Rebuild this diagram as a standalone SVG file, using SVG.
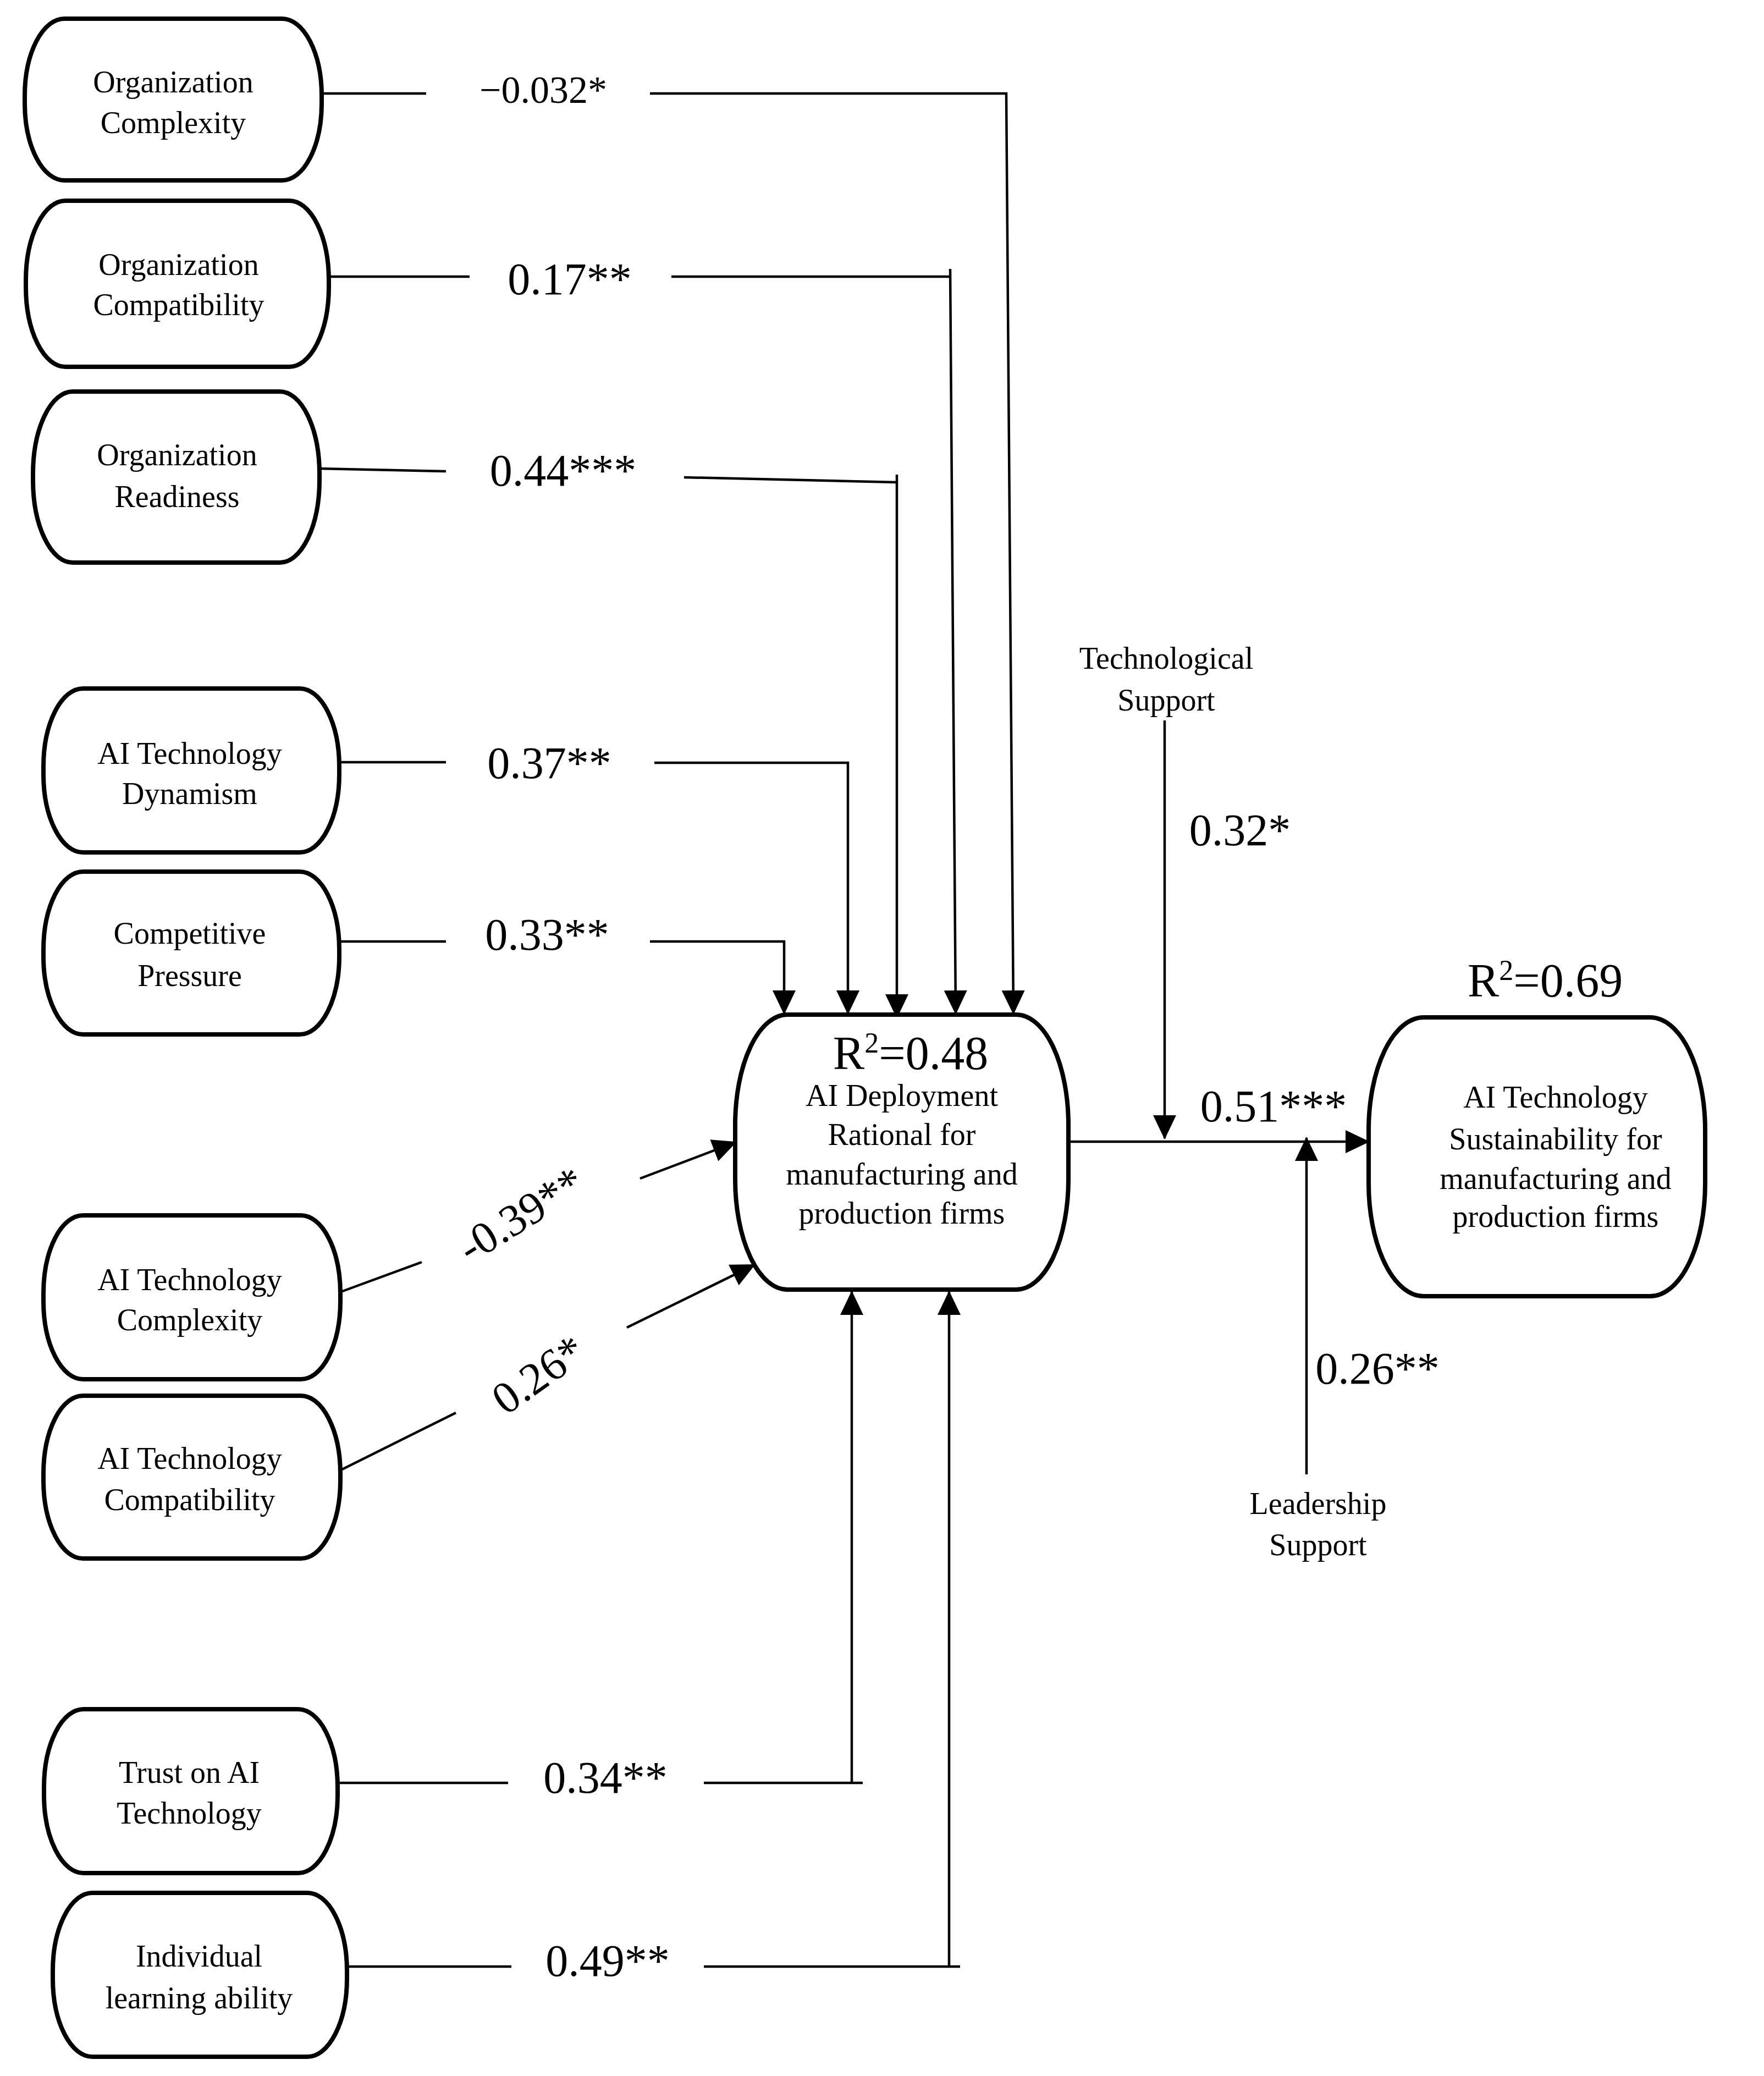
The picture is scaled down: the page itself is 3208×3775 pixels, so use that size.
<svg xmlns="http://www.w3.org/2000/svg" width="3208" height="3775" viewBox="0 0 3208 3775">
<defs>
<style>
.node{fill:#fff;stroke:#000;stroke-width:8}
.nt{font-family:"Liberation Serif","Times New Roman",serif;font-size:56px;text-anchor:middle;fill:#000}
.coef{font-family:"Liberation Serif","Times New Roman",serif;font-size:82px;text-anchor:middle;fill:#000}
.small{font-size:70px}
.r2{font-family:"Liberation Serif","Times New Roman",serif;font-size:86px;text-anchor:middle;fill:#000}
.ln{fill:none;stroke:#000;stroke-width:4.5}
.arr{fill:none;stroke:#000;stroke-width:4.5;marker-end:url(#ah)}
</style>
<marker id="ah" markerUnits="userSpaceOnUse" markerWidth="44" markerHeight="44" refX="42" refY="21" orient="auto" viewBox="0 0 44 42">
<path d="M0,0 L44,21 L0,42 z" fill="#000"/>
</marker>
</defs>
<rect width="3208" height="3775" fill="#fff"/>

<g id="connectors">
<path class="ln" d="M583,170 H775"/>
<path class="arr" d="M1182,170 H1830 L1843,1843"/>
<path class="ln" d="M599,503 H854"/>
<path class="ln" d="M1221,503 H1728"/>
<path class="arr" d="M1728,489 L1738,1843"/>
<path class="ln" d="M580,852 L811,857"/>
<path class="ln" d="M1244,868 L1631,877"/>
<path class="arr" d="M1631,863 V1850"/>
<path class="ln" d="M618,1386 H811"/>
<path class="arr" d="M1190,1387 H1542 V1843"/>
<path class="ln" d="M618,1712 H811"/>
<path class="arr" d="M1182,1712 H1426 V1843"/>
<path class="ln" d="M620,2349 L767,2295"/>
<path class="arr" d="M1164,2143 L1338,2077"/>
<path class="ln" d="M620,2673 L829,2569"/>
<path class="arr" d="M1140,2414 L1372,2300"/>
<path class="ln" d="M614,3242 H924"/>
<path class="ln" d="M1280,3242 H1569"/>
<path class="arr" d="M1549,3242 V2349"/>
<path class="ln" d="M631,3576 H930"/>
<path class="ln" d="M1280,3576 H1746"/>
<path class="arr" d="M1726,3576 V2349"/>
<path class="arr" d="M1945,2076 H2489"/>
<path class="arr" d="M2118,1310 V2070"/>
<path class="arr" d="M2376,2681 V2069"/>

<text class="coef small" x="988" y="187">−0.032*</text>
<text class="coef" x="1036" y="535">0.17**</text>
<text class="coef" x="1024" y="883">0.44***</text>
<text class="coef" x="999" y="1415">0.37**</text>
<text class="coef" x="995" y="1727">0.33**</text>
<text class="coef" transform="translate(962,2232) rotate(-32)">-0.39**</text>
<text class="coef" transform="translate(995,2522) rotate(-35)">0.26*</text>
<text class="coef" x="1101" y="3260">0.34**</text>
<text class="coef" x="1105" y="3593">0.49**</text>
<text class="coef" x="2255" y="1537">0.32*</text>
<text class="coef" x="2316" y="2039">0.51***</text>
<text class="coef" x="2505" y="2516">0.26**</text>
</g>

<g id="n-org-complexity">
<rect class="node" x="45" y="34" width="540" height="294" rx="72" ry="140"/>
<text class="nt" x="315" y="168">Organization</text>
<text class="nt" x="315" y="242">Complexity</text>
</g>
<g id="n-org-compatibility">
<rect class="node" x="47" y="365" width="551" height="302" rx="72" ry="145"/>
<text class="nt" x="325" y="500">Organization</text>
<text class="nt" x="325" y="573">Compatibility</text>
</g>
<g id="n-org-readiness">
<rect class="node" x="60" y="712" width="521" height="311" rx="72" ry="150"/>
<text class="nt" x="322" y="846">Organization</text>
<text class="nt" x="322" y="922">Readiness</text>
</g>
<g id="n-ai-dynamism">
<rect class="node" x="79" y="1252" width="538" height="298" rx="72" ry="142"/>
<text class="nt" x="345" y="1389">AI Technology</text>
<text class="nt" x="345" y="1462">Dynamism</text>
</g>
<g id="n-competitive">
<rect class="node" x="79" y="1585" width="538" height="296" rx="72" ry="142"/>
<text class="nt" x="345" y="1716">Competitive</text>
<text class="nt" x="345" y="1793">Pressure</text>
</g>
<g id="n-ai-complexity">
<rect class="node" x="79" y="2210" width="540" height="298" rx="72" ry="142"/>
<text class="nt" x="345" y="2346">AI Technology</text>
<text class="nt" x="345" y="2419">Complexity</text>
</g>
<g id="n-ai-compatibility">
<rect class="node" x="79" y="2538" width="540" height="296" rx="72" ry="142"/>
<text class="nt" x="345" y="2671">AI Technology</text>
<text class="nt" x="345" y="2746">Compatibility</text>
</g>
<g id="n-trust">
<rect class="node" x="80" y="3108" width="534" height="298" rx="72" ry="142"/>
<text class="nt" x="344" y="3242">Trust on AI</text>
<text class="nt" x="344" y="3316">Technology</text>
</g>
<g id="n-individual">
<rect class="node" x="96" y="3442" width="535" height="298" rx="72" ry="142"/>
<text class="nt" x="362" y="3576">Individual</text>
<text class="nt" x="362" y="3652">learning ability</text>
</g>
<g id="n-deployment">
<rect class="node" x="1337" y="1845" width="606" height="500" rx="95" ry="200"/>
<text class="r2" x="1656" y="1944">R<tspan font-size="52" dy="-30">2</tspan><tspan dy="30">=0.48</tspan></text>
<text class="nt" x="1640" y="2011">AI Deployment</text>
<text class="nt" x="1640" y="2082">Rational for</text>
<text class="nt" x="1640" y="2154">manufacturing and</text>
<text class="nt" x="1640" y="2225">production firms</text>
</g>
<g id="n-sustainability">
<rect class="node" x="2489" y="1850" width="612" height="507" rx="100" ry="205"/>
<text class="nt" x="2829" y="2014">AI Technology</text>
<text class="nt" x="2829" y="2090">Sustainability for</text>
<text class="nt" x="2829" y="2162">manufacturing and</text>
<text class="nt" x="2829" y="2231">production firms</text>
</g>
<text id="r2-sustainability" class="r2" x="2810" y="1812">R<tspan font-size="52" dy="-30">2</tspan><tspan dy="30">=0.69</tspan></text>
<g id="n-tech-support">
<text class="nt" x="2121" y="1216">Technological</text>
<text class="nt" x="2121" y="1292">Support</text>
</g>
<g id="n-leadership">
<text class="nt" x="2397" y="2753">Leadership</text>
<text class="nt" x="2397" y="2828">Support</text>
</g>
</svg>
